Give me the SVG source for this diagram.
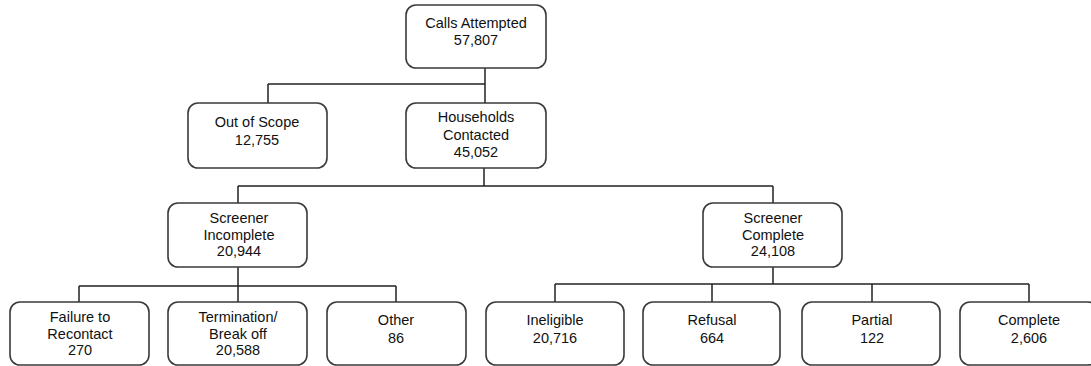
<svg xmlns="http://www.w3.org/2000/svg" width="1091" height="366" viewBox="0 0 1091 366">
<style>
.box{fill:#fff;stroke:#3a3a3a;stroke-width:1.6}
.lbl{font-family:"Liberation Sans",Arial,sans-serif;font-size:14.5px;fill:#111;text-anchor:middle}
.con{fill:none;stroke:#222;stroke-width:1.5}
</style>
<rect width="1091" height="366" fill="#fff"/>
<g id="connectors">
<path class="con" d="M485 68V103M268 84H485M268 84V103"/>
<path class="con" d="M484 168V186M238 186H773M238 186V203M773 186V203"/>
<path class="con" d="M238 267V286M79 286H396M79 286V302M238 286V302M396 286V302"/>
<path class="con" d="M773 267V284M555 284H1029M555 284V302M712 284V302M872 284V302M1029 284V302"/>
</g>
<g id="calls">
<rect class="box" x="406" y="5" width="140" height="63" rx="10"/>
<text class="lbl" x="476" y="28">Calls Attempted</text>
<text class="lbl" x="476" y="45">57,807</text>
</g>
<g id="outofscope">
<rect class="box" x="188" y="103" width="139" height="65" rx="10"/>
<text class="lbl" x="257" y="127">Out of Scope</text>
<text class="lbl" x="257" y="145">12,755</text>
</g>
<g id="households">
<rect class="box" x="406" y="103" width="140" height="65" rx="10"/>
<text class="lbl" x="476" y="122">Households</text>
<text class="lbl" x="476" y="139.5">Contacted</text>
<text class="lbl" x="476" y="157">45,052</text>
</g>
<g id="screenerIncomplete">
<rect class="box" x="168" y="203" width="139" height="64" rx="10"/>
<text class="lbl" x="239" y="223">Screener</text>
<text class="lbl" x="239" y="239.5">Incomplete</text>
<text class="lbl" x="239" y="256">20,944</text>
</g>
<g id="screenerComplete">
<rect class="box" x="703" y="203" width="139" height="64" rx="10"/>
<text class="lbl" x="773" y="223">Screener</text>
<text class="lbl" x="773" y="239.5">Complete</text>
<text class="lbl" x="773" y="256">24,108</text>
</g>
<g id="failure">
<rect class="box" x="10" y="302" width="139" height="63" rx="10"/>
<text class="lbl" x="80" y="322">Failure to</text>
<text class="lbl" x="80" y="338.5">Recontact</text>
<text class="lbl" x="80" y="355">270</text>
</g>
<g id="termination">
<rect class="box" x="168" y="302" width="139" height="63" rx="10"/>
<text class="lbl" x="238" y="322">Termination/</text>
<text class="lbl" x="238" y="338.5">Break off</text>
<text class="lbl" x="238" y="355">20,588</text>
</g>
<g id="other">
<rect class="box" x="327" y="302" width="139" height="63" rx="10"/>
<text class="lbl" x="396" y="324.5">Other</text>
<text class="lbl" x="396" y="343">86</text>
</g>
<g id="ineligible">
<rect class="box" x="486" y="302" width="138" height="63" rx="10"/>
<text class="lbl" x="555" y="324.5">Ineligible</text>
<text class="lbl" x="555" y="343">20,716</text>
</g>
<g id="refusal">
<rect class="box" x="643" y="302" width="137" height="63" rx="10"/>
<text class="lbl" x="712" y="324.5">Refusal</text>
<text class="lbl" x="712" y="343">664</text>
</g>
<g id="partial">
<rect class="box" x="802" y="302" width="138" height="63" rx="10"/>
<text class="lbl" x="872" y="324.5">Partial</text>
<text class="lbl" x="872" y="343">122</text>
</g>
<g id="complete">
<rect class="box" x="960" y="302" width="138" height="63" rx="10"/>
<text class="lbl" x="1029" y="324.5">Complete</text>
<text class="lbl" x="1029" y="343">2,606</text>
</g>
</svg>
